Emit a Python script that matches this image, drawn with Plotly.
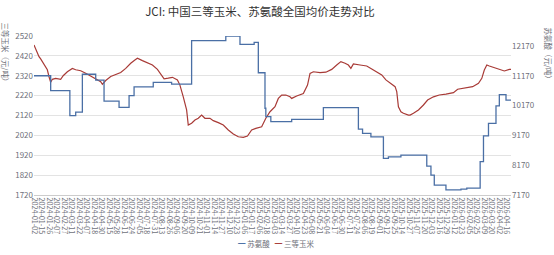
import plotly.graph_objects as go
import pandas as pd

title_text = "JCI: 中国三等玉米、苏氨酸全国均价走势对比"
corn_name = "三等玉米"
thr_name = "苏氨酸"
left_title = "三等玉米（元/吨）"
right_title = "苏氨酸（元/吨）"

tick_dates = [
    "2024-01-02", "2024-01-15", "2024-01-26", "2024-02-07", "2024-02-27", "2024-03-11",
    "2024-03-22", "2024-04-07", "2024-04-18", "2024-04-30", "2024-05-15", "2024-05-28",
    "2024-06-11", "2024-06-24", "2024-07-05", "2024-07-18", "2024-07-31", "2024-08-13",
    "2024-08-26", "2024-09-06", "2024-09-20", "2024-10-09", "2024-10-21", "2024-11-01",
    "2024-11-14", "2024-11-27", "2024-12-10", "2024-12-23", "2025-01-06", "2025-01-17",
    "2025-02-06", "2025-02-18", "2025-03-03", "2025-03-14", "2025-03-27", "2025-04-10",
    "2025-04-23", "2025-05-08", "2025-05-21", "2025-06-04", "2025-06-17", "2025-06-30",
    "2025-07-11", "2025-07-24", "2025-08-06", "2025-08-19", "2025-09-01", "2025-09-12",
    "2025-09-25", "2025-10-14", "2025-10-27", "2025-11-07", "2025-11-20", "2025-12-03",
    "2025-12-16", "2025-12-29", "2026-01-12", "2026-01-23", "2026-02-05", "2026-02-25",
    "2026-03-09", "2026-03-20", "2026-04-02", "2026-04-16",
]

corn_dates = [
    "2024-01-02", "2024-01-04", "2024-01-10", "2024-01-12", "2024-01-18", "2024-01-24",
    "2024-01-26", "2024-01-30", "2024-02-01", "2024-02-06", "2024-02-21", "2024-02-26",
    "2024-03-04", "2024-03-12", "2024-03-18", "2024-03-26", "2024-04-03", "2024-04-12",
    "2024-04-22", "2024-04-29", "2024-05-06", "2024-05-10", "2024-05-17", "2024-05-27",
    "2024-06-04", "2024-06-13", "2024-06-21", "2024-06-28", "2024-07-03", "2024-07-11",
    "2024-07-19", "2024-07-29", "2024-08-06", "2024-08-12", "2024-08-16", "2024-08-23",
    "2024-08-30", "2024-09-09", "2024-09-12", "2024-09-19", "2024-09-25", "2024-09-27",
    "2024-10-09", "2024-10-14", "2024-10-18", "2024-10-24", "2024-10-30", "2024-11-07",
    "2024-11-13", "2024-11-21", "2024-11-29", "2024-12-09", "2024-12-17", "2024-12-25",
    "2025-01-03", "2025-01-10", "2025-01-17", "2025-01-24", "2025-02-10", "2025-02-17",
    "2025-02-24", "2025-03-04", "2025-03-10", "2025-03-14", "2025-03-21", "2025-03-28",
    "2025-04-01", "2025-04-10", "2025-04-22", "2025-04-28", "2025-05-06", "2025-05-12",
    "2025-05-22", "2025-06-03", "2025-06-12", "2025-06-20", "2025-06-27", "2025-07-04",
    "2025-07-10", "2025-07-15", "2025-07-18", "2025-07-30", "2025-08-11", "2025-08-18",
    "2025-08-27", "2025-09-04", "2025-09-11", "2025-09-22", "2025-09-26", "2025-09-29",
    "2025-10-09", "2025-10-13", "2025-10-16", "2025-10-24", "2025-10-28", "2025-11-03",
    "2025-11-11", "2025-11-19", "2025-11-26", "2025-12-05", "2025-12-16", "2025-12-26",
    "2026-01-09", "2026-01-16", "2026-01-26", "2026-02-04", "2026-02-11", "2026-02-27",
    "2026-03-04", "2026-03-09", "2026-03-12", "2026-03-17", "2026-03-25", "2026-04-02",
    "2026-04-13", "2026-04-21", "2026-04-23",
]
corn_values = [
    2475, 2455, 2416, 2405, 2380, 2350,
    2315, 2287, 2302, 2307, 2302, 2320,
    2340, 2357, 2350, 2345, 2333, 2319,
    2302, 2290, 2277, 2296, 2316, 2328,
    2336, 2357, 2383, 2399, 2408, 2396,
    2387, 2374, 2352, 2330, 2305, 2308,
    2312, 2299, 2273, 2214, 2148, 2072,
    2081, 2097, 2106, 2122, 2106, 2106,
    2094, 2084, 2072, 2047, 2027, 2013,
    2010, 2017, 2047, 2055, 2063, 2106,
    2139, 2164, 2206, 2223, 2223, 2214,
    2206, 2218, 2231, 2273, 2332, 2340,
    2336, 2338, 2352, 2374, 2391, 2383,
    2374, 2357, 2379, 2374, 2369, 2357,
    2340, 2324, 2299, 2277, 2265, 2240,
    2164, 2139, 2131, 2122, 2122, 2131,
    2148, 2173, 2198, 2214, 2223, 2228,
    2235, 2252, 2256, 2261, 2265, 2282,
    2307, 2349, 2374, 2369, 2361, 2353,
    2344, 2352, 2352,
]

thr_dates = [
    "2024-01-02", "2024-01-30", "2024-03-07", "2024-03-18", "2024-03-28", "2024-04-22",
    "2024-05-08", "2024-05-31", "2024-06-19", "2024-06-27", "2024-07-30", "2024-08-29",
    "2024-10-09", "2024-12-04", "2024-12-27", "2025-01-22", "2025-02-05", "2025-02-14",
    "2025-02-17", "2025-02-25", "2025-04-01", "2025-05-28", "2025-07-28", "2025-08-04",
    "2025-08-18", "2025-09-08", "2025-09-16", "2025-10-13", "2025-11-25", "2025-12-02",
    "2025-12-08", "2025-12-26", "2026-01-22", "2026-02-02", "2026-03-02", "2026-03-06",
    "2026-03-16", "2026-03-27", "2026-04-02", "2026-04-15", "2026-04-23",
]
thr_values = [
    11170, 10670, 9830, 9950, 11220, 11020,
    10320, 10110, 10500, 10800, 10950, 10890,
    12350, 12500, 12220, 12290, 11270, 10080,
    9800, 9630, 9710, 10100, 9380, 9240,
    9120, 8400, 8450, 8510, 8140, 7840,
    7500, 7340, 7370, 7400, 8290, 9150,
    9570, 10160, 10540, 10350, 10350,
]

left_ticks = [1720, 1820, 1920, 2020, 2120, 2220, 2320, 2420, 2520]
right_ticks = [7170, 8170, 9170, 10170, 11170, 12170]

makeup_workdays = [
    "2024-02-04", "2024-02-18", "2024-04-07", "2024-04-28", "2024-05-11", "2024-09-14",
    "2024-09-29", "2024-10-12", "2025-01-26", "2025-02-08", "2025-04-27", "2025-09-28",
    "2025-10-11", "2026-01-04", "2026-02-14", "2026-02-28",
]
holidays = [
    "2024-01-01", "2024-02-09", "2024-02-12", "2024-02-13", "2024-02-14", "2024-02-15",
    "2024-02-16", "2024-04-04", "2024-04-05", "2024-05-01", "2024-05-02", "2024-05-03",
    "2024-06-10", "2024-09-16", "2024-09-17", "2024-10-01", "2024-10-02", "2024-10-03",
    "2024-10-04", "2024-10-07", "2025-01-01", "2025-01-28", "2025-01-29", "2025-01-30",
    "2025-01-31", "2025-02-03", "2025-02-04", "2025-04-04", "2025-05-01", "2025-05-02",
    "2025-05-05", "2025-06-02", "2025-10-01", "2025-10-02", "2025-10-03", "2025-10-06",
    "2025-10-07", "2025-10-08", "2026-01-01", "2026-01-02", "2026-02-16", "2026-02-17",
    "2026-02-18", "2026-02-19", "2026-02-20", "2026-02-23", "2026-04-06",
]

# non-trading days (layout only): weekends that are not make-up workdays, plus holidays
off_days = []
for d in pd.date_range("2023-12-25", "2026-05-10"):
    s = d.strftime("%Y-%m-%d")
    if (d.weekday() >= 5 and s not in makeup_workdays) or s in holidays:
        off_days.append(s)

BLUE = "#4a6fa5"
RED = "#a83a36"
GREY = "#6e7079"
FONT = "Noto Sans CJK SC, Noto Sans, sans-serif"

fig = go.Figure()
fig.add_trace(go.Scatter(
    x=thr_dates, y=thr_values, name=thr_name, mode="lines", yaxis="y2",
    line=dict(color=BLUE, width=1.3, shape="hv"),
))
fig.add_trace(go.Scatter(
    x=corn_dates, y=corn_values, name=corn_name, mode="lines", yaxis="y",
    line=dict(color=RED, width=1.2),
))

W, H = 554, 255
ml, mr, mt, mb = 34, 43, 36, 60
pw, ph = W - ml - mr, H - mt - mb

legend_text = (
    f'<span style="color:{BLUE}">━</span> {thr_name}   '
    f'<span style="color:{RED}">━</span> {corn_name}'
)

fig.update_layout(
    width=W, height=H,
    margin=dict(l=ml, r=mr, t=mt, b=mb, autoexpand=False),
    paper_bgcolor="white", plot_bgcolor="white",
    font=dict(family=FONT, color=GREY, size=8),
    title=dict(text=title_text, x=260 / W, xanchor="center", y=1 - 12 / H, yanchor="middle",
               font=dict(size=11.5, color="#333333", family=FONT)),
    showlegend=False,
    xaxis=dict(
        type="date",
        range=["2024-01-02", "2026-04-23"],
        rangebreaks=[dict(values=off_days)],
        tickmode="array", tickvals=tick_dates, ticktext=tick_dates,
        tickangle=90, tickfont=dict(size=7.2, color=GREY),
        showgrid=False, showline=True, linecolor="#cccccc", linewidth=1,
        ticks="", automargin=False, zeroline=False,
    ),
    yaxis=dict(
        range=[1720, 2520], tickmode="array", tickvals=left_ticks,
        ticktext=[str(v) for v in left_ticks],
        tickfont=dict(size=8, color=GREY),
        showgrid=True, gridcolor="#e3e3e3", gridwidth=1,
        zeroline=False, showline=False, ticks="", automargin=False,
    ),
    yaxis2=dict(
        overlaying="y", side="right",
        range=[7170, 7170 + (2520 - 1720) * 1000 / 150],
        tickmode="array", tickvals=right_ticks,
        ticktext=[str(v) for v in right_ticks],
        tickfont=dict(size=8, color=GREY),
        showgrid=False, zeroline=False, showline=False, ticks="", automargin=False,
    ),
    annotations=[
        dict(text=left_title, xref="paper", yref="paper",
             x=(5 - ml) / pw, y=(195 - 20) / ph, xanchor="center", yanchor="top",
             textangle=90, showarrow=False, font=dict(size=7.5, color=GREY)),
        dict(text=right_title, xref="paper", yref="paper",
             x=(548 - ml) / pw, y=(195 - 25) / ph, xanchor="center", yanchor="top",
             textangle=90, showarrow=False, font=dict(size=7.5, color=GREY)),
        dict(text=legend_text, xref="paper", yref="paper",
             x=(276 - ml) / pw, y=(195 - 243) / ph, xanchor="center", yanchor="middle",
             showarrow=False, font=dict(size=7.5, color=GREY)),
    ],
)

fig.write_html("out.html")
